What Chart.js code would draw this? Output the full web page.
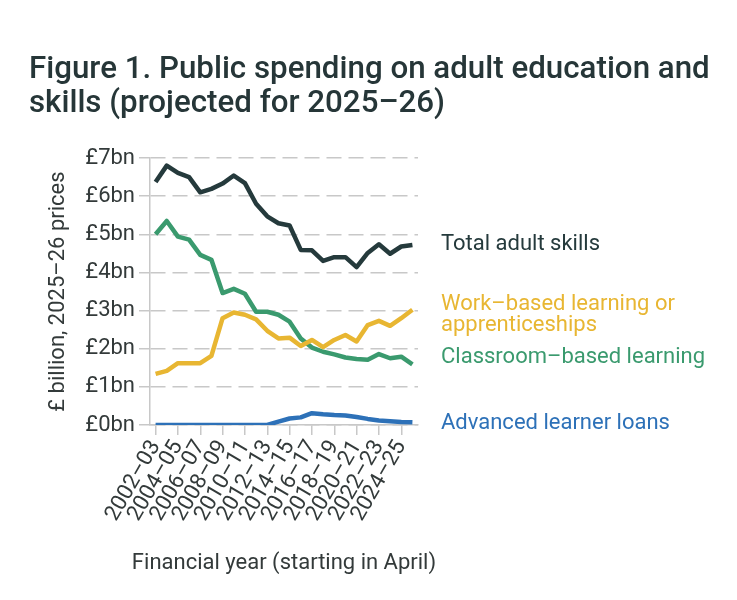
<!DOCTYPE html>
<html>
<head>
<meta charset="utf-8">
<script src="https://cdn.jsdelivr.net/npm/chart.js@4"></script>
<style>
  body { margin: 0; background: #fff; }
  #wrap { width: 737px; height: 600px; }
</style>
</head>
<body>
<div id="wrap"><canvas id="skillsChart"></canvas></div>
<script>
// financial years 2002-03 .. 2025-26 (last one projected)
const years = ['2002–03', '2003–04', '2004–05', '2005–06', '2006–07', '2007–08', '2008–09', '2009–10',
               '2010–11', '2011–12', '2012–13', '2013–14', '2014–15', '2015–16', '2016–17', '2017–18',
               '2018–19', '2019–20', '2020–21', '2021–22', '2022–23', '2023–24', '2024–25', '2025–26'];

const totalSkills = [6.37, 6.80, 6.61, 6.50, 6.10, 6.19, 6.33, 6.54, 6.34, 5.80, 5.47, 5.29,
                     5.23, 4.59, 4.58, 4.30, 4.40, 4.40, 4.14, 4.51, 4.74, 4.49, 4.68, 4.72];
const workBased = [1.34, 1.42, 1.62, 1.62, 1.62, 1.81, 2.80, 2.95, 2.89, 2.77, 2.47, 2.27,
                   2.29, 2.07, 2.23, 2.04, 2.23, 2.36, 2.19, 2.62, 2.73, 2.60, 2.80, 3.02];
const classroom = [5.00, 5.35, 4.94, 4.86, 4.46, 4.33, 3.46, 3.57, 3.44, 2.97, 2.97, 2.89,
                   2.71, 2.27, 2.03, 1.92, 1.85, 1.77, 1.73, 1.71, 1.86, 1.75, 1.79, 1.59];
const loans = [0, 0, 0, 0, 0, 0, 0, 0, 0, 0, 0, 0.09,
               0.17, 0.20, 0.31, 0.28, 0.26, 0.25, 0.21, 0.16, 0.12, 0.10, 0.08, 0.07];

const yTicks = [0, 1, 2, 3, 4, 5, 6, 7];

const titleLines = ['Figure 1. Public spending on adult education and', 'skills (projected for 2025–26)'];
const xTitle = 'Financial year (starting in April)';

const FONT = 'Roboto, "Noto Sans", sans-serif';
const TEXT = '#333a3a';
const GRID = '#c8c8c8';

function series(label, data, color, endLabel, shift) {
  return {
    label: label,
    data: data,
    borderColor: color,
    backgroundColor: color,
    borderWidth: 4.5,
    pointRadius: 0,
    tension: 0,
    borderJoinStyle: 'round',
    endLabel: endLabel,
    endShift: shift
  };
}

// series names next to the last point of each line
const endLabels = {
  id: 'endLabels',
  afterDatasetsDraw(chart) {
    const ctx = chart.ctx;
    const y = chart.scales.y;
    const x0 = chart.chartArea.right + 23;
    ctx.save();
    ctx.font = '22px ' + FONT;
    ctx.textAlign = 'left';
    ctx.textBaseline = 'middle';
    chart.data.datasets.forEach(ds => {
      const last = ds.data[ds.data.length - 1];
      const py = y.getPixelForValue(last) + ds.endShift;
      ctx.fillStyle = ds.borderColor;
      const lh = 21;
      ds.endLabel.forEach((t, i) => {
        ctx.fillText(t, x0, py - (ds.endLabel.length - 1) * lh / 2 + i * lh);
      });
    });
    ctx.restore();
  }
};

// title and x-axis title drawn by hand so they can run wider than the plot
const extraText = {
  id: 'extraText',
  afterDraw(chart) {
    const ctx = chart.ctx;
    const area = chart.chartArea;
    ctx.save();
    ctx.font = '500 31.3px ' + FONT;
    ctx.fillStyle = '#263638';
    ctx.textAlign = 'left';
    ctx.textBaseline = 'alphabetic';
    ctx.fillText(titleLines[0], 29, 78);
    ctx.fillText(titleLines[1], 29, 112);

    ctx.font = '22px ' + FONT;
    ctx.fillStyle = TEXT;
    ctx.textAlign = 'center';
    ctx.textBaseline = 'middle';
    ctx.fillText(xTitle, (area.left + area.right) / 2, 563);
    ctx.restore();
  }
};

const ctx = document.getElementById('skillsChart').getContext('2d');
const skillsChart = new Chart(ctx, {
  type: 'line',
  data: {
    labels: years,
    datasets: [
      series('Total adult skills', totalSkills, '#253a3c', ['Total adult skills'], 0),
      series('Work–based learning or apprenticeships', workBased, '#e8b632', ['Work–based learning or', 'apprenticeships'], 5),
      series('Classroom–based learning', classroom, '#3a9a6e', ['Classroom–based learning'], -7),
      series('Advanced learner loans', loans, '#2d71b8', ['Advanced learner loans'], 1)
    ]
  },
  options: {
    responsive: true,
    maintainAspectRatio: false,
    animation: false,
    layout: { padding: { left: 29, right: 319, top: 158, bottom: 26 } },
    plugins: {
      legend: { display: false },
      tooltip: { enabled: false },
      title: { display: false }
    },
    scales: {
      x: {
        offset: true,
        border: { display: true, color: GRID, width: 1.5 },
        grid: { display: true, offset: false, drawOnChartArea: false, drawTicks: true, tickLength: 10, color: GRID, lineWidth: 1.5 },
        ticks: {
          autoSkip: false,
          minRotation: 60,
          maxRotation: 60,
          padding: 1,
          color: TEXT,
          font: { family: FONT, size: 22 },
          callback: (v, i) => (i % 2 === 0 ? years[i] : null)
        },
        afterFit: s => { s.height = 149; }
      },
      y: {
        min: 0,
        max: 7,
        afterBuildTicks: s => { s.ticks = yTicks.map(v => ({ value: v })); },
        border: { display: true, color: GRID, width: 1.5, dash: [15, 7] },
        grid: {
          color: GRID,
          lineWidth: 1.5,
          tickLength: 11,
          tickBorderDash: [],
          drawTicks: true
        },
        ticks: {
          padding: 4,
          color: TEXT,
          font: { family: FONT, size: 22 },
          callback: v => '£' + v + 'bn'
        },
        title: {
          display: true,
          text: '£ billion, 2025–26 prices',
          color: TEXT,
          font: { family: FONT, size: 22 },
          padding: { top: 16, bottom: 0 }
        },
        afterFit: s => { s.width = 121; }
      }
    }
  },
  plugins: [endLabels, extraText]
});
</script>
</body>
</html>
